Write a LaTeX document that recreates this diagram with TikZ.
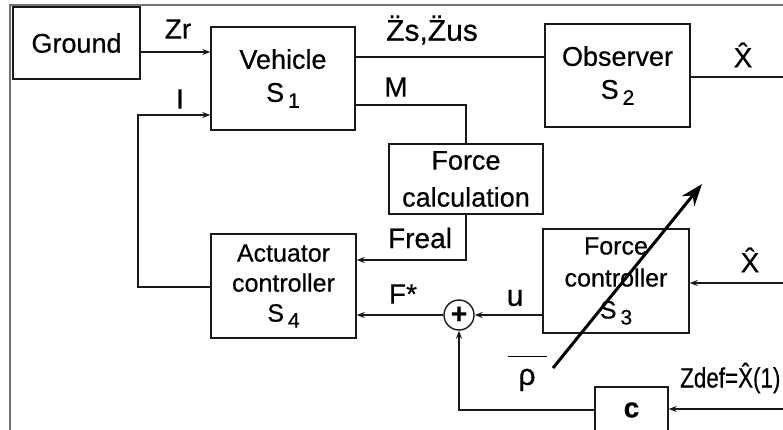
\documentclass[tikz,border=0pt]{standalone}
\usepackage{fontspec}
\usepackage{graphicx}
\setmainfont{Liberation Sans}[FakeBold=0.5]
\usetikzlibrary{arrows.meta}
\newcommand\subsc[2]{#1\hspace{4pt}\raisebox{-6pt}{\fontsize{21}{21}\selectfont #2}}
\newcommand\xhat{\accent"02C6 X}
\newcommand\zdd{\accent"00A8 Z}
\begin{document}
\begin{tikzpicture}[x=1pt,y=-1pt,
  box/.style={draw=black!90, line width=1.4pt, inner sep=0pt, align=center,
    font=\fontsize{27}{33}\selectfont},
  lbl/.style={inner sep=0pt, font=\fontsize{28}{28}\selectfont},
  wire/.style={draw=black!90, line width=1.2pt},
  arr/.style={wire, -{Stealth[length=8pt,width=6pt]}},
  frame/.style={draw=black!55, line width=2pt}]
\useasboundingbox (0,0) rectangle (783,430);
\clip (0,0) rectangle (783,430);
% frame
\draw[frame] (10,432) -- (10,5) -- (785,5);
% boxes
\node[box, minimum width=127pt, minimum height=72pt] (ground) at (76.5,43) {Ground};
\node[box, minimum width=144pt, minimum height=103pt] (veh) at (283,78.5) {Vehicle\\\subsc{S}{1}};
\node[box, minimum width=145pt, minimum height=103pt] (obs) at (617.5,75.5) {Observer\\\subsc{S}{2}};
\node[box, minimum width=154pt, minimum height=70pt, font=\fontsize{27}{37}\selectfont] (fcalc) at (466,179) {Force\\calculation};
\node[box, minimum width=145pt, minimum height=104pt, font=\fontsize{25}{30}\selectfont] (act) at (283.5,286) {Actuator\\controller\\\subsc{S}{4}};
\node[box, minimum width=146pt, minimum height=104pt, font=\fontsize{25}{32}\selectfont] (fctrl) at (616,281) {Force\\controller\\\subsc{S}{3}};
\node[draw=black!90, line width=1.4pt, circle, minimum size=30pt, inner sep=0pt,
  font=\fontsize{28}{28}\selectfont\bfseries] (sum) at (459,315) {+};
\node[box, minimum width=73pt, minimum height=46pt, font=\fontsize{28}{28}\selectfont\bfseries] (cbox) at (631.5,410) {c};
% free ends
\coordinate (xout) at (783,77);
\coordinate (xin) at (783,283);
\coordinate (zin) at (783,409);
\coordinate (lp) at (138,200);
\coordinate (rhoA) at (553,368);
\coordinate (rhoB) at (702,184);
% connectors
\draw[arr] (ground.east |- 0,52) -- (veh.west |- 0,52);
\draw[arr] (act.west |- 0,287) -| (lp) |- (veh.west |- 0,115);
\draw[wire] (veh.east |- 0,57) -- (obs.west |- 0,57);
\draw[wire] (obs.east |- xout) -- (xout);
\draw[wire] (veh.east |- 0,105) -| (fcalc.north);
\draw[arr] (fcalc.south) |- (act.east |- 0,260);
\draw[arr] (sum.west) -- (act.east |- sum.west);
\draw[arr] (fctrl.west |- sum.east) -- (sum.east);
\draw[arr] (xin) -- (fctrl.east |- xin);
\draw[arr] (zin) -- (cbox.east |- zin);
\draw[arr] (cbox.west) -| (sum.south);
\draw[line width=3pt, -{Stealth[length=22pt,width=16pt]}] (rhoA) -- (rhoB);
% labels
\node[lbl] (lzr) at (178,29) {Zr};
\node[lbl] (li) at (180,99) {I};
\node[lbl, font=\fontsize{30}{30}\selectfont] (lzs) at (432,30) {\zdd s,\zdd us};
\node[lbl] (lx1) at (743,55) {\xhat};
\node[lbl] (lm) at (396,87) {M};
\node[lbl] (lfreal) at (420,238) {Freal};
\node[lbl] (lfstar) at (403,294) {F*};
\node[lbl, font=\fontsize{30}{30}\selectfont] (lu) at (515,298) {u};
\node[lbl] (lx2) at (750,260) {\xhat};
\node[lbl, anchor=west] (lzdef) at (680,378) {\scalebox{0.8}[1]{\fontsize{28}{28}\selectfont Zdef=\xhat(1)}};
\node[lbl, anchor=north, align=center, font=\fontsize{30}{28}\selectfont] (lrho) at (527,355.5) {\rule{39pt}{1.2pt}\\ρ};
\end{tikzpicture}
\end{document}
